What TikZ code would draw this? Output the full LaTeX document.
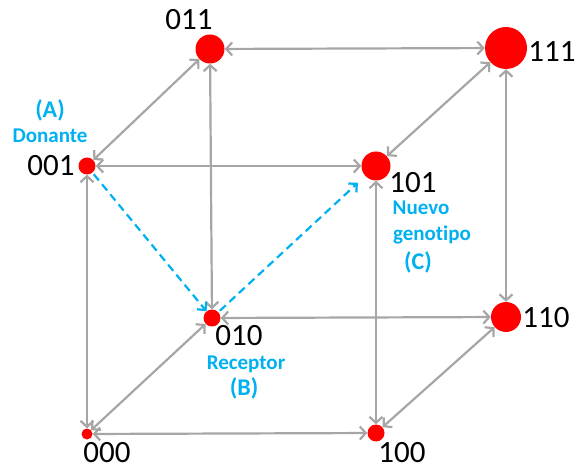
\documentclass[tikz,border=0pt]{standalone}
\usepackage{fontspec}
\setmainfont{Carlito}[Ligatures=NoCommon]
\usetikzlibrary{arrows.meta}
\definecolor{edgegray}{RGB}{166,166,166}
\definecolor{skyblue}{RGB}{0,176,240}
\definecolor{dotred}{RGB}{255,0,0}

\begin{document}
\begin{tikzpicture}[x=1pt, y=-1pt,
			geno/.style={circle, fill=dotred, inner sep=0pt},
			bitlabel/.style={font=\fontsize{31}{33}\selectfont, inner sep=0pt},
			rolelabel/.style={font=\bfseries\fontsize{21}{23}\selectfont, text=skyblue, inner sep=0pt},
			rolemark/.style={font=\bfseries\fontsize{24}{26}\selectfont, text=skyblue, inner sep=0pt},
			cubeedge/.style={{Straight Barb[length=6pt,width=13pt]}-{Straight Barb[length=6pt,width=13pt]}, line width=2.2pt, edgegray},
			crossarrow/.style={-{Straight Barb[length=6pt,width=12pt]}, line width=2.2pt, skyblue, dash pattern=on 8pt off 5pt}]
			\useasboundingbox (0,0) rectangle (576,470);
			% genotipos
			\node[geno, minimum size=11pt] (g000) at (87,434) {};
			\node[geno, minimum size=17pt] (g100) at (376,433) {};
			\node[geno, minimum size=17pt] (g010) at (212,318) {};
			\node[geno, minimum size=30pt] (g110) at (506,317) {};
			\node[geno, minimum size=17pt] (g001) at (87,166) {};
			\node[geno, minimum size=29pt] (g101) at (376,166) {};
			\node[geno, minimum size=29pt] (g011) at (210,49) {};
			\node[geno, minimum size=42pt] (g111) at (506,48) {};
			% etiquetas
			\node[bitlabel] (l000) at (107,453) {000};
			\node[bitlabel] (l100) at (402,453) {100};
			\node[bitlabel] (l010) at (239,336) {010};
			\node[bitlabel] (l110) at (546,318) {110};
			\node[bitlabel] (l001) at (51,166) {001};
			\node[bitlabel] (l101) at (413,183) {101};
			\node[bitlabel] (l011) at (189,20) {011};
			\node[bitlabel] (l111) at (552,52) {111};
			\node[rolemark] (ma) at (50,110) {(A)};
			\node[rolelabel] (donor) at (50,136) {Donante};
			\node[rolelabel] (recv) at (246,364) {Receptor};
			\node[rolemark] (mb) at (244,388) {(B)};
			\node[rolelabel] (new1) at (421,208) {Nuevo};
			\node[rolelabel] (new2) at (432,235) {genotipo};
			\node[rolemark] (mc) at (418,262) {(C)};
			% aristas del cubo
			\draw[cubeedge] (g000) -- (g100);
			\draw[cubeedge] (g000) -- (g010);
			\draw[cubeedge] (g000) -- (g001);
			\draw[cubeedge] (g100) -- (g110);
			\draw[cubeedge] (g100) -- (g101);
			\draw[cubeedge] (g010) -- (g110);
			\draw[cubeedge] (g010) -- (g011);
			\draw[cubeedge] (g110) -- (g111);
			\draw[cubeedge] (g001) -- (g101);
			\draw[cubeedge] (g001) -- (g011);
			\draw[cubeedge] (g101) -- (g111);
			\draw[cubeedge] (g011) -- (g111);
			% recombinacion
			\draw[crossarrow, shorten <=2pt] (g001) -- (g010);
			\draw[crossarrow, shorten <=2pt, shorten >=10pt] (g010) -- (g101);
		\end{tikzpicture}
\end{document}
